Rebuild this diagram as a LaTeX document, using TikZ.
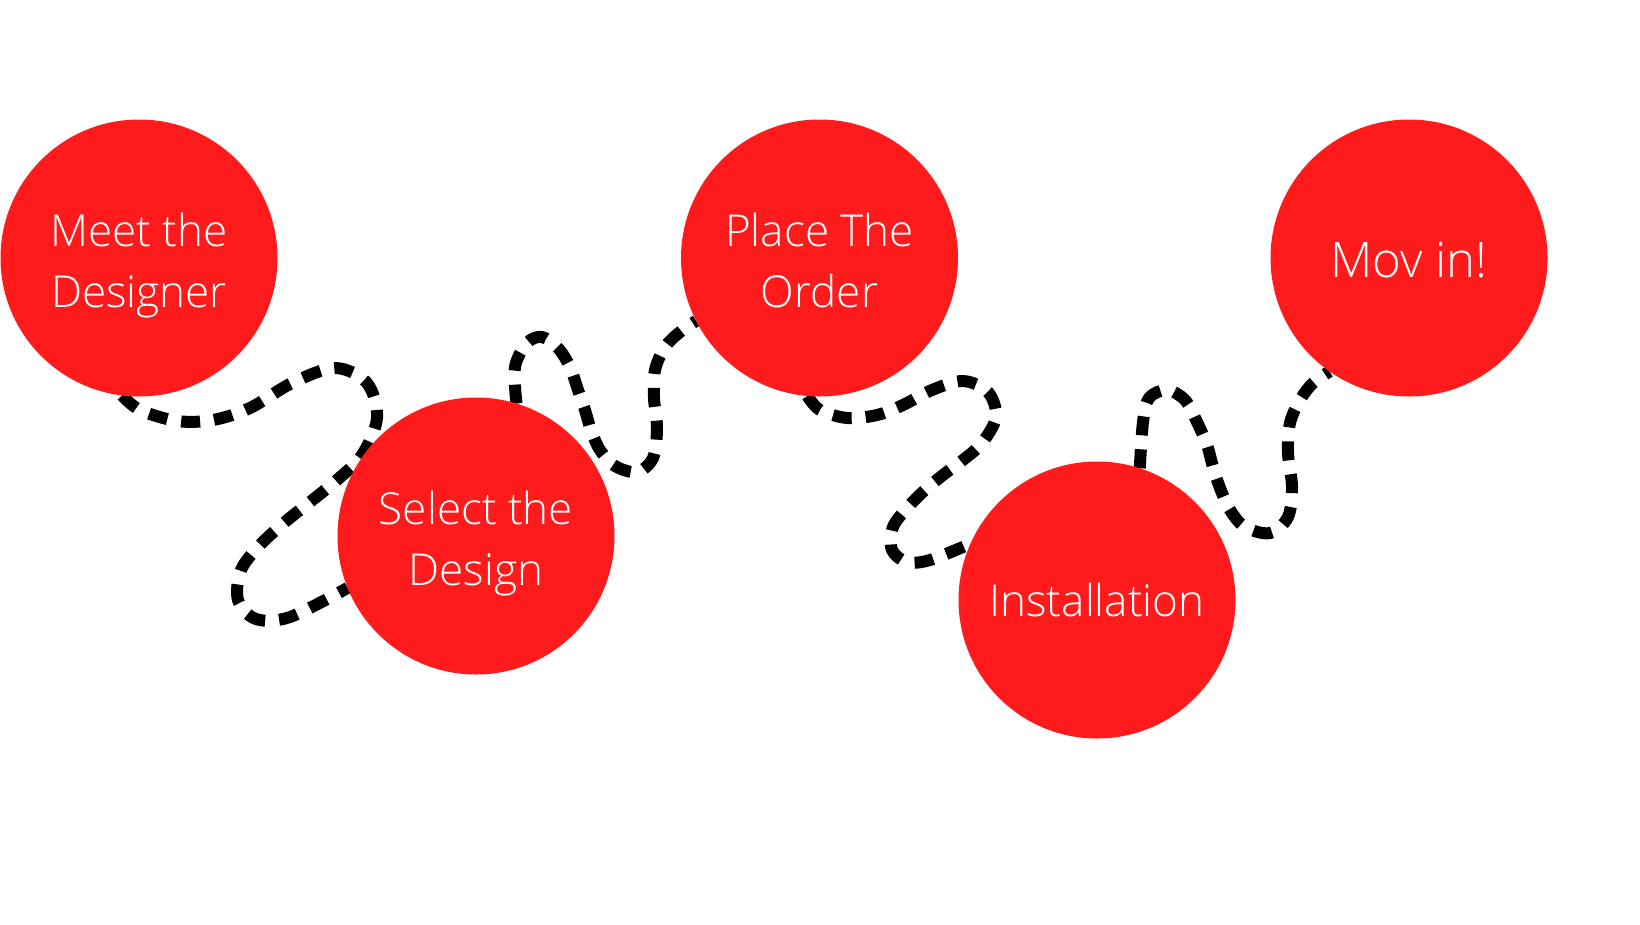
\documentclass[tikz,border=0pt]{standalone}
\usepackage{fontspec}
\IfFontExistsTF{Open Sans Light}{\setmainfont{Open Sans Light}}{\setmainfont{Open Sans}}
\definecolor{stepred}{RGB}{255,27,28}
\pgfdeclarelayer{paper}
\pgfdeclarelayer{curves}
\pgfsetlayers{paper,curves,main}
\newcommand\twostrut{\rule[-12pt]{0pt}{61pt}}
\begin{document}
\begin{tikzpicture}[x=1pt,y=-1pt,
  stepcircle/.style={circle,fill=stepred,draw=none,minimum size=277pt,inner sep=0pt,outer sep=0pt,
    text=white,align=center,font=\fontsize{44}{61}\selectfont},
  pathline/.style={line width=12pt,black,dash pattern=on 19pt off 14pt,line cap=butt}]
\useasboundingbox (0,0) rectangle (1640,924);
\begin{pgfonlayer}{paper}
\fill[white] (0,0) rectangle (1640,924);
\end{pgfonlayer}
\node[stepcircle] (c1) at (139,258) {\twostrut Meet the\\\twostrut Designer};
\node[stepcircle] (c2) at (476,536) {\twostrut Select the\\\twostrut Design};
\node[stepcircle] (c3) at (819.5,258) {\twostrut Place The\\\twostrut Order};
\node[stepcircle] (c4) at (1097,600) {\rule{0pt}{34pt}Installation};
\node[stepcircle,font=\fontsize{49}{61}\selectfont] (c5) at (1409,258) {\rule{0pt}{40pt}Mov in!};
\begin{pgfonlayer}{curves}
\draw[pathline] plot[smooth,tension=0.55] coordinates {(c1.263) (140,410) (177,421) (213,420) (250,408) (292,383) (335,368) (367,383) (377,418) (362,455) (337,480) (310,502) (285,522) (260,545) (241,570) (238,600) (256,619) (290,617) (c2.202)};
\draw[pathline] plot[smooth,tension=0.55] coordinates {(c2.73) (515,367) (527,343) (542,337) (558,348) (570,367) (578,390) (585,410) (591,430) (600,450) (615,466) (637,472) (653,458) (657,428) (654,398) (655,370) (665,347) (680,332) (c3.207)};
\draw[pathline] plot[smooth,tension=0.55] coordinates {(c3.265) (820,410) (847,418) (877,415) (903,405) (932,390) (963,381) (988,392) (996,417) (982,443) (963,460) (943,475) (925,490) (908,507) (893,527) (892,550) (907,562) (930,560) (c4.156)};
\draw[pathline] plot[smooth,tension=0.55] coordinates {(c4.72) (1143,422) (1149,398) (1167,390) (1185,400) (1197,422) (1207,445) (1213,467) (1220,488) (1230,510) (1245,527) (1270,533) (1288,517) (1292,487) (1288,453) (1290,423) (1300,400) (1313,383) (c5.235)};
\end{pgfonlayer}
\end{tikzpicture}
\end{document}
